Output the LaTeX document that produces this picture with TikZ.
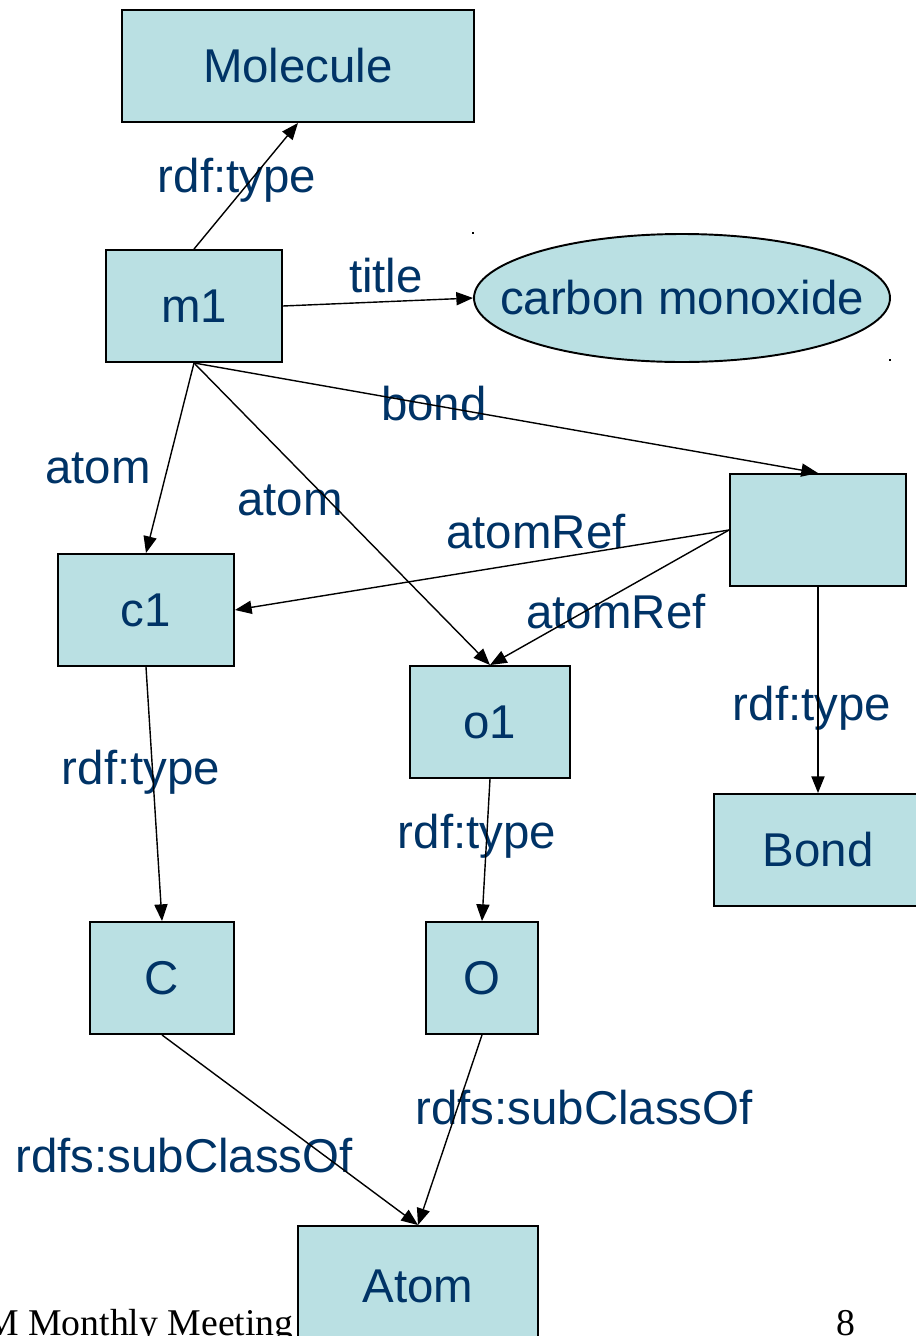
\documentclass[tikz,border=0pt]{standalone}
\usepackage{fontspec}
\setmainfont{Liberation Sans}
\newfontfamily\footfont{Liberation Serif}
\usetikzlibrary{shapes.geometric,arrows.meta}
\definecolor{boxfill}{RGB}{186,224,227}
\definecolor{txtblue}{RGB}{0,51,102}
\begin{document}
\begin{tikzpicture}[x=0.02cm,y=-0.02cm,
  box/.style={draw=black,line width=1.1pt,fill=boxfill,rectangle,inner sep=0pt,
    font=\fontsize{27}{30}\selectfont,text=txtblue},
  oval/.style={draw=black,line width=1.1pt,fill=boxfill,ellipse,inner sep=0pt},
  lbl/.style={inner sep=0pt,font=\fontsize{27}{30}\selectfont,text=txtblue},
  conn/.style={line width=0.8pt,-{Triangle[length=9.5pt,width=7.5pt]}},
  foot/.style={inner sep=0pt,font=\footfont\fontsize{21.5}{24}\selectfont,text=black}]
\useasboundingbox (0,0) rectangle (916,1336);
\begin{scope}
\clip (0,0) rectangle (916,1336);
% nodes
\node[box,minimum width=352*0.02cm,minimum height=112*0.02cm] (molecule) at (298,66) {Molecule};
\node[box,minimum width=176*0.02cm,minimum height=112*0.02cm] (m1) at (194,306) {m1};
\node[oval,minimum width=416*0.02cm,minimum height=128*0.02cm] (co) at (682,298) {};
\node[lbl] (cotext) at (co.center) {carbon monoxide};
\node[box,minimum width=176*0.02cm,minimum height=112*0.02cm] (bnode) at (818,530) {};
\node[box,minimum width=176*0.02cm,minimum height=112*0.02cm] (c1) at (146,610) {c1};
\node[box,minimum width=160*0.02cm,minimum height=112*0.02cm] (o1) at (490,722) {o1};
\node[box,minimum width=208*0.02cm,minimum height=112*0.02cm] (bond) at (818,850) {Bond};
\node[box,minimum width=144*0.02cm,minimum height=112*0.02cm] (C) at (162,978) {C};
\node[box,minimum width=112*0.02cm,minimum height=112*0.02cm] (O) at (482,978) {O};
\node[box,minimum width=240*0.02cm,minimum height=120*0.02cm] (atom) at (418,1286) {Atom};
% selection marks
\fill[black] (472,232) rectangle (474,234);
\fill[black] (889,359) rectangle (891,361);
% labels
\node[lbl] (l1) at (237,180) {rdf:type};
\node[lbl] (l2) at (386,276) {title};
\node[lbl] (l3) at (98,468) {atom};
\node[lbl] (l4) at (290,500) {atom};
\node[lbl] (l5) at (434,404) {bond};
\node[lbl] (l6) at (536,532) {atomRef};
\node[lbl] (l7) at (616,612) {atomRef};
\node[lbl] (l8) at (812,708) {rdf:type};
\node[lbl] (l9) at (141,772) {rdf:type};
\node[lbl] (l10) at (477,836) {rdf:type};
\node[lbl] (l11) at (184,1156) {rdfs:subClassOf};
\node[lbl] (l12) at (584,1108) {rdfs:subClassOf};
% connectors
\draw[conn] (m1.north) -- (molecule.south);
\draw[conn] (m1.east) -- (co.west);
\draw[conn] (m1.south) -- (c1.north);
\draw[conn] (m1.south) -- (o1.north);
\draw[conn] (m1.south) -- (bnode.north);
\draw[conn] (bnode.west) -- (c1.east);
\draw[conn] (bnode.west) -- (o1.north);
\draw[conn] (bnode.south) -- (bond.north);
\draw[conn] (c1.south) -- (C.north);
\draw[conn] (o1.south) -- (O.north);
\draw[conn] (C.south) -- (atom.north);
\draw[conn] (O.south) -- (atom.north);
% footer
\node[foot,anchor=base east] (ft) at (294,1335) {M Monthly Meeting};
\node[foot,anchor=base] (pg) at (846,1335) {8};
\end{scope}
\end{tikzpicture}
\end{document}
